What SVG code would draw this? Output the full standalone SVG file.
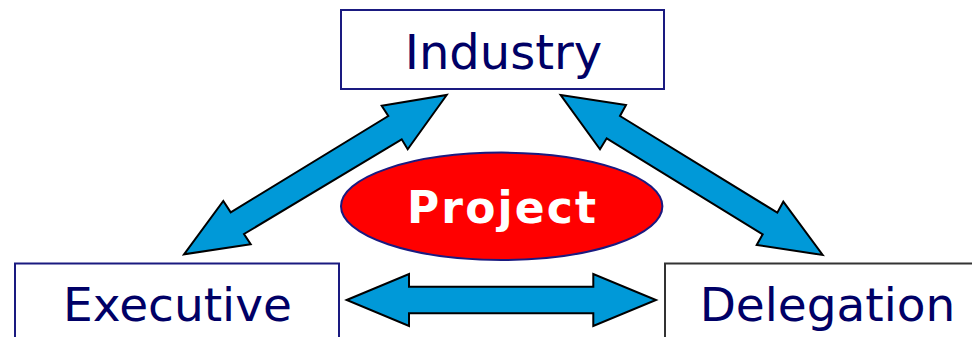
<svg xmlns="http://www.w3.org/2000/svg" width="972" height="337" viewBox="0 0 972 337">
<style>
.box{fill:#fff;stroke:#1a1a80;stroke-width:2}
.lbl{font-family:"DejaVu Sans",Verdana,sans-serif;font-size:47px;fill:#000066;text-anchor:middle}
.arr{fill:#0099d8;stroke:#000;stroke-width:2;stroke-linejoin:miter}
</style>
<rect width="972" height="337" fill="#fff"/>
<g id="connectors">
<polygon class="arr" points="446.7,95 407.7,149.3 401.7,139.3 244,234 250.7,244.3 184,254.3 223.3,201 230.7,212.3 388.3,116 381.7,105.7"/>
<polygon class="arr" points="560.7,95 626,105 620,116 777.3,212.7 783.3,201.7 822.7,255 756.7,245 762.7,234.3 606.7,138.3 600,149.3"/>
<polygon class="arr" points="346.7,300 409,274 409,286.7 593.3,286.7 593.3,274 656,300 593.3,326 593.3,313.3 409,313.3 409,326"/>
</g>
<g id="industry">
<rect class="box" x="341" y="10" width="323" height="79"/>
<text class="lbl" x="503.5" y="69" style="font-size:48px">Industry</text>
</g>
<g id="executive">
<rect class="box" x="15" y="263.5" width="324" height="90"/>
<text class="lbl" x="177.5" y="321">Executive</text>
</g>
<g id="delegation">
<rect class="box" x="665" y="263.5" width="320" height="90" style="stroke:#333"/>
<text class="lbl" x="827.5" y="321">Delegation</text>
</g>
<g id="project">
<ellipse cx="501.7" cy="206.3" rx="160.7" ry="53.7" fill="#ff0000" stroke="#1a1a80" stroke-width="2"/>
<text x="501.5" y="223.3" font-family="DejaVu Sans,Verdana,sans-serif" font-size="44" font-weight="bold" fill="#fff" text-anchor="middle" textLength="189" lengthAdjust="spacing">Project</text>
</g>
</svg>
